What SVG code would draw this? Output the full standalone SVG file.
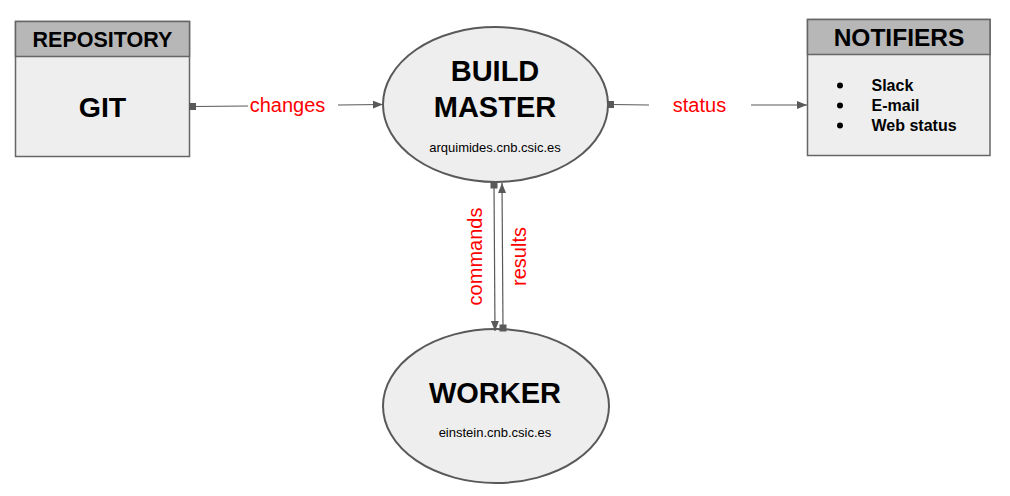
<svg xmlns="http://www.w3.org/2000/svg" width="1010" height="496" viewBox="0 0 1010 496">
<defs>
<style>
.box{fill:#eeeeee;stroke:#666666;stroke-width:1.5}
.hdr{fill:#b7b7b7;stroke:#666666;stroke-width:1.5}
.ell{fill:#eeeeee;stroke:#595959;stroke-width:2}
.b{font-family:"Liberation Sans",Arial,sans-serif;font-weight:bold;fill:#000;text-anchor:middle}
.r{font-family:"Liberation Sans",Arial,sans-serif;fill:#000;text-anchor:middle}
.lbl{font-family:"Liberation Sans",Arial,sans-serif;fill:#ff0000;font-size:20px;text-anchor:middle}
.c{fill:none;stroke:#595959;stroke-width:1.2}
.sq{fill:#595959}
</style>
<marker id="arr" viewBox="0 0 10 10" refX="10" refY="5" markerWidth="10" markerHeight="10" markerUnits="userSpaceOnUse" orient="auto">
<path d="M0,1 L10,5 L0,9 Z" fill="#595959"/>
</marker>
</defs>
<rect width="1010" height="496" fill="#ffffff"/>
<g id="repository">
<rect class="box" x="15.5" y="21.5" width="174" height="135"/>
<rect class="hdr" x="15.5" y="21.5" width="174" height="35"/>
<text class="b" x="102.5" y="47" font-size="21.5">REPOSITORY</text>
<text class="b" x="102.5" y="117" font-size="28.5">GIT</text>
</g>
<g id="notifiers">
<rect class="box" x="807.5" y="19.5" width="182.5" height="136"/>
<rect class="hdr" x="807.5" y="19.5" width="182.5" height="35"/>
<text class="b" x="899" y="46" font-size="24.5">NOTIFIERS</text>
<g font-family="'Liberation Sans',Arial,sans-serif" font-weight="bold" font-size="16" fill="#000">
<circle cx="840" cy="85.5" r="3"/>
<circle cx="840" cy="105.5" r="3"/>
<circle cx="840" cy="125.5" r="3"/>
<text x="871.5" y="91">Slack</text>
<text x="871.5" y="111">E-mail</text>
<text x="871.5" y="130.5">Web status</text>
</g>
</g>
<g id="buildmaster">
<ellipse class="ell" cx="495.5" cy="104.5" rx="112.5" ry="77.5"/>
<text class="b" x="495" y="80.5" font-size="29">BUILD</text>
<text class="b" x="495" y="116.5" font-size="29">MASTER</text>
<text class="r" x="495" y="152" font-size="13">arquimides.cnb.csic.es</text>
</g>
<g id="worker">
<ellipse class="ell" cx="496" cy="406" rx="113" ry="77"/>
<text class="b" x="495" y="402.5" font-size="29">WORKER</text>
<text class="r" x="495" y="437" font-size="13">einstein.cnb.csic.es</text>
</g>
<g id="connectors">
<line class="c" x1="192" y1="106.5" x2="248" y2="106"/>
<line class="c" x1="338" y1="105" x2="383" y2="104.5" marker-end="url(#arr)"/>
<rect class="sq" x="189" y="103" width="7" height="7"/>
<text class="lbl" x="287.5" y="111.5">changes</text>
<line class="c" x1="610" y1="104.5" x2="649" y2="105"/>
<line class="c" x1="751" y1="105" x2="807" y2="105" marker-end="url(#arr)"/>
<rect class="sq" x="607" y="101" width="7" height="7"/>
<text class="lbl" x="699.5" y="111.5">status</text>
<line class="c" x1="494" y1="185" x2="495" y2="331" marker-end="url(#arr)"/>
<rect class="sq" x="490.5" y="181.5" width="7" height="7"/>
<line class="c" x1="503" y1="328" x2="502" y2="183" marker-end="url(#arr)"/>
<rect class="sq" x="499.5" y="324.5" width="7" height="7"/>
<text class="lbl" transform="translate(482,256.5) rotate(-90)">commands</text>
<text class="lbl" transform="translate(526,256.5) rotate(-90)">results</text>
</g>
</svg>
